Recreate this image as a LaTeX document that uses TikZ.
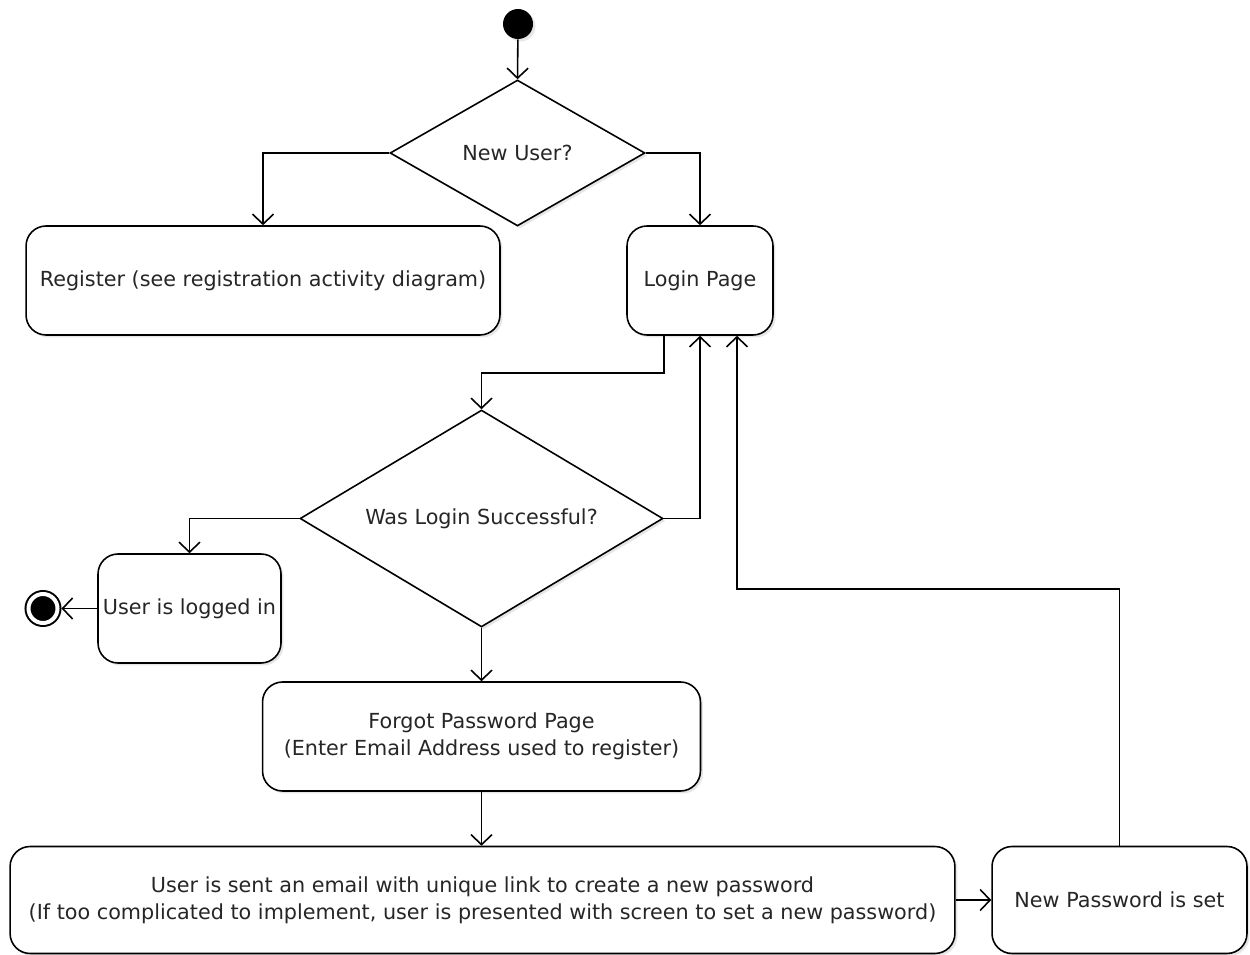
\documentclass[tikz,border=0pt]{standalone}
\usepackage{fontspec}
\setmainfont{DejaVu Sans}
\usetikzlibrary{shapes.geometric,arrows.meta,shadows,calc}

\begin{document}
\begin{tikzpicture}[x=0.02cm,y=-0.02cm,
  every node/.style={font=\fontsize{11.8}{15.3}\selectfont,text=black!85},
  act/.style={rectangle,draw,rounded corners=0.4cm,fill=white,align=center,line width=0.9pt,inner sep=1pt,
    drop shadow={shadow xshift=0.05cm,shadow yshift=-0.05cm,opacity=0.2}},
  decision/.style={diamond,draw,fill=white,inner sep=0pt,aspect=1.7,line width=0.9pt,
    drop shadow={shadow xshift=0.05cm,shadow yshift=-0.05cm,opacity=0.2}},
  start/.style={circle,fill=black,inner sep=0pt,minimum size=0.6cm,
    drop shadow={shadow xshift=0.05cm,shadow yshift=-0.05cm,opacity=0.2}},
  final/.style={circle,fill=black,draw,double=white,double distance=0.08cm,line width=0.04cm,
    inner sep=0pt,minimum size=0.58cm,outer sep=0.08cm},
  flow/.style={line width=0.9pt,-{Straight Barb[length=0.2cm,width=0.42cm,line width=0.9pt]}}]

\useasboundingbox (0,0) rectangle (1250,955);

% states
\node[start] (init) at (518,24) {};
\node[decision,minimum width=5.1cm,minimum height=2.92cm] (newuser) at (517.5,153) {New User?};
\node[act,minimum width=9.48cm,minimum height=2.18cm] (register) at (263,280.5) {Register (see registration activity diagram)};
\node[act,minimum width=2.92cm,minimum height=2.18cm] (login) at (700,280.5) {Login Page};
\node[decision,minimum width=7.26cm,minimum height=4.34cm] (success) at (481.5,518.5) {Was Login Successful?};
\node[act,minimum width=3.66cm,minimum height=2.18cm] (loggedin) at (189.5,608.5) {User is logged in};
\node[final] (final) at (43,608.5) {};
\node[act,minimum width=8.76cm,minimum height=2.18cm] (forgot) at (481.5,736.5) {Forgot Password Page\\(Enter Email Address used to register)};
\node[act,minimum width=18.9cm,minimum height=2.14cm] (email) at (482.5,900) {User is sent an email with unique link to create a new password\\(If too complicated to implement, user is presented with screen to set a new password)};
\node[act,minimum width=5.1cm,minimum height=2.14cm] (newpass) at (1119.5,900) {New Password is set};

% transitions
\draw[flow] (init) -- (newuser.north);
\draw[flow] (newuser.west) -| (register.north);
\draw[flow] (newuser.east) -| (login.north);
\draw[flow] ($(login.south)+(-36,0)$) -- ++(0,37) -| (success.north);
\draw[flow] (success.east) -| (login.south);
\draw[flow] (success.west) -| (loggedin.north);
\draw[flow] (loggedin.west) -- (final);
\draw[flow] (success.south) -- (forgot.north);
\draw[flow] (forgot.south) -- (forgot.south |- email.north);
\draw[flow] (email.east) -- (newpass.west);
%\draw[flow] (newpass.north) |- (login.south);
\draw[flow] (newpass.north) -- ++(0,-257) -| ($(login.south)+(37,0)$);
\end{tikzpicture}
\end{document}
